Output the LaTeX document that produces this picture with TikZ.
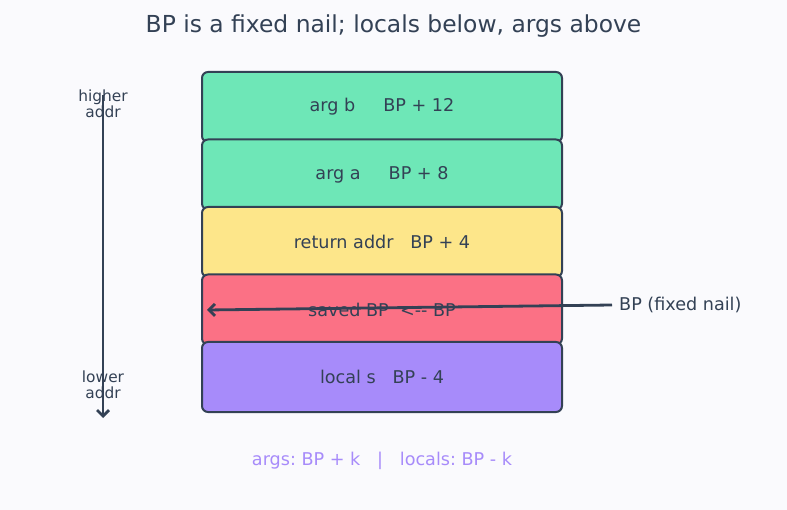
\documentclass[tikz,border=0pt]{standalone}
\usepackage{fontspec}
\setmainfont{DejaVu Sans}
\usetikzlibrary{arrows.meta}
\definecolor{bg}{HTML}{FAFAFD}
\definecolor{ink}{HTML}{334155}
\definecolor{cgreen}{HTML}{6EE7B7}
\definecolor{cyellow}{HTML}{FDE68A}
\definecolor{cred}{HTML}{FB7185}
\definecolor{cpurple}{HTML}{A78BFA}
\definecolor{legend}{HTML}{A78BFA}
\frenchspacing
\tikzset{
  slot/.style={draw=ink, line width=2pt, rounded corners=6pt, minimum width=360pt, minimum height=70pt, inner sep=0pt, text=ink, font=\fontsize{17.6}{20}\selectfont},
  side/.style={text=ink, font=\fontsize{15.4}{16}\selectfont, align=center, inner sep=0pt},
  arr/.style={draw=ink, line width=2.8pt, -{Straight Barb[length=6pt,width=12pt,line width=2.8pt]}}
}
\begin{document}
\begin{tikzpicture}[x=1pt,y=-1pt]
\fill[bg] (0,0) rectangle (787,510);
\useasboundingbox (0,0) rectangle (787,510);
\node[text=ink, font=\fontsize{23.4}{26}\selectfont] (title) at (393.5,26.5) {BP is a fixed nail; locals below, args above};
\node[slot, fill=cgreen] (argb) at (382,107) {arg b\ \ \ \ \ BP + 12};
\node[slot, fill=cgreen] (arga) at (382,174.5) {arg a\ \ \ \ \ BP + 8};
\node[slot, fill=cyellow] (ret) at (382,242) {return addr\ \ \ BP + 4};
\node[slot, fill=cred] (saved) at (382,309.5) {saved BP\ \ <{-}{-} BP};
\node[slot, fill=cpurple] (loc) at (382,377) {local s\ \ \ BP - 4};
\node[side] (hi) at (103,104) {higher\\addr};
\node[side] (lo) at (103,385) {lower\\addr};
\coordinate (atop) at (103,95);
\coordinate (abot) at (103,418);
\draw[arr] (atop) -- (abot);
\node[text=ink, font=\fontsize{17.6}{20}\selectfont, anchor=west, inner sep=0pt] (nail) at (619,305) {BP (fixed nail)};
\coordinate (tip) at (207,310);
\draw[arr] ([xshift=-7pt]nail.west) -- (tip);
\node[text=legend, font=\fontsize{17.6}{20}\selectfont] (leg) at (382,461) {args: BP + k\ \ \ |\ \ \ locals: BP - k};
\end{tikzpicture}
\end{document}
